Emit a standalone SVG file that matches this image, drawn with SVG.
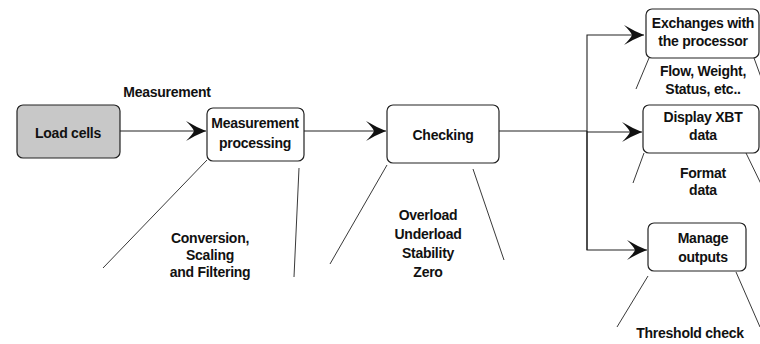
<svg xmlns="http://www.w3.org/2000/svg" width="760" height="344" viewBox="0 0 760 344">
  <style>
    .box { fill: #ffffff; stroke: #222222; stroke-width: 1.2; }
    .src { fill: #c8c8c8; }
    .wire { fill: none; stroke: #222222; stroke-width: 1.1; }
    .fan { fill: none; stroke: #222222; stroke-width: 0.9; }
    text { font-family: "Liberation Sans", Arial, sans-serif; font-size: 14px; font-weight: bold; fill: #111111; text-anchor: middle; letter-spacing: -0.25px; }
  </style>
  <defs>
    <marker id="head" markerUnits="userSpaceOnUse" markerWidth="24" markerHeight="24" viewBox="-22 -12 24 24" refX="0" refY="0" orient="auto">
      <path d="M0,0 Q-10,-4 -20,-10 Q-13,-3 -12,0 Q-13,3 -20,10 Q-10,4 0,0 Z" fill="#111111"/>
    </marker>
  </defs>

  <!-- flow connectors -->
  <g id="connectors">
    <line class="wire" x1="120" y1="131" x2="206" y2="131" marker-end="url(#head)"/>
    <line class="wire" x1="304" y1="131" x2="386" y2="131" marker-end="url(#head)"/>
    <polyline class="wire" points="499,131 587,131"/>
    <polyline class="wire" points="587,250 587,35 644,35" marker-end="url(#head)"/>
    <line class="wire" x1="587" y1="132" x2="642" y2="132" marker-end="url(#head)"/>
    <polyline class="wire" points="587,131 587,250 647,250" marker-end="url(#head)"/>
  </g>

  <!-- load cells -->
  <g id="load-cells">
    <rect class="box src" x="17" y="105" width="103" height="53" rx="6"/>
    <text x="68" y="138">Load cells</text>
  </g>

  <text x="167" y="97">Measurement</text>

  <!-- measurement processing -->
  <g id="measurement-processing">
    <rect class="box" x="207" y="108" width="97" height="53" rx="6"/>
    <text x="255" y="128">Measurement</text>
    <text x="255" y="148">processing</text>
    <line class="fan" x1="207" y1="160" x2="103" y2="268"/>
    <line class="fan" x1="299" y1="168" x2="294" y2="277"/>
    <text x="210" y="243">Conversion,</text>
    <text x="210" y="260">Scaling</text>
    <text x="210" y="277">and Filtering</text>
  </g>

  <!-- checking -->
  <g id="checking">
    <rect class="box" x="387" y="105" width="112" height="58" rx="6"/>
    <text x="443" y="140">Checking</text>
    <line class="fan" x1="387" y1="165" x2="330" y2="264"/>
    <line class="fan" x1="473" y1="169" x2="504" y2="260"/>
    <text x="428" y="220">Overload</text>
    <text x="428" y="239">Underload</text>
    <text x="428" y="258">Stability</text>
    <text x="428" y="277">Zero</text>
  </g>

  <!-- exchanges with the processor -->
  <g id="exchanges">
    <rect class="box" x="646" y="9" width="113" height="49" rx="6"/>
    <text x="703" y="28">Exchanges with</text>
    <text x="703" y="46">the processor</text>
    <line class="fan" x1="649" y1="58" x2="636" y2="89"/>
    <line class="fan" x1="754" y1="58" x2="762" y2="80"/>
    <text x="703" y="76">Flow, Weight,</text>
    <text x="703" y="94">Status, etc..</text>
  </g>

  <!-- display XBT data -->
  <g id="display-xbt">
    <rect class="box" x="643" y="105" width="116" height="48" rx="6"/>
    <text x="703" y="122">Display XBT</text>
    <text x="703" y="140">data</text>
    <line class="fan" x1="644" y1="153" x2="633" y2="183"/>
    <line class="fan" x1="746" y1="153" x2="762" y2="186"/>
    <text x="703" y="178">Format</text>
    <text x="703" y="195">data</text>
  </g>

  <!-- manage outputs -->
  <g id="manage-outputs">
    <rect class="box" x="648" y="223" width="98" height="48" rx="6"/>
    <text x="703" y="243">Manage</text>
    <text x="703" y="262">outputs</text>
    <line class="fan" x1="648" y1="276" x2="617" y2="327"/>
    <line class="fan" x1="736" y1="272" x2="760" y2="327"/>
    <text x="690" y="338">Threshold check</text>
  </g>
</svg>
